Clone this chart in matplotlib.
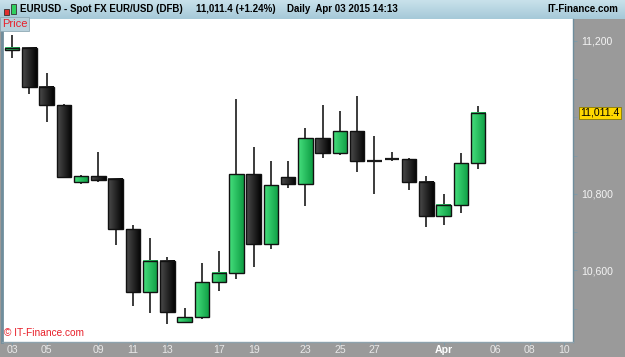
import numpy as np
import matplotlib
matplotlib.use("Agg")
import matplotlib.pyplot as plt
from matplotlib.patches import Rectangle
from matplotlib.colors import LinearSegmentedColormap

plt.rcParams['font.family'] = ['Liberation Sans', 'DejaVu Sans']

# daily candles, Mar 03 .. Apr 03 2015 (Sunday sessions included)
opens = [11175, 11182, 11080, 11032, 10832, 10846, 10838, 10707, 10543, 10625,
         10465, 10478, 10569, 10593, 10851, 10669, 10844, 10827, 10946, 10908,
         10965, 10888, 10890, 10890, 10830, 10741, 10772, 10880]
highs = [11215, 11185, 11115, 11034, 10849, 10910, 10841, 10719, 10684, 10634,
         10501, 10619, 10651, 11048, 10922, 10885, 10885, 10973, 11031, 11017,
         11056, 10952, 10909, 10893, 10847, 10801, 10908, 11029]
lows = [11154, 11062, 10989, 10841, 10825, 10832, 10667, 10506, 10488, 10459,
        10465, 10473, 10547, 10578, 10610, 10655, 10815, 10769, 10893, 10902,
        10858, 10801, 10887, 10811, 10713, 10719, 10751, 10864]
closes = [11182, 11079, 11032, 10845, 10846, 10837, 10707, 10543, 10625, 10491,
          10478, 10569, 10593, 10851, 10669, 10822, 10827, 10946, 10908, 10965,
          10887, 10886, 10891, 10830, 10741, 10772, 10880, 11011.4]

tick_idx = [0, 2, 5, 7, 9, 12, 14, 17, 19, 21, 25, 28, 30, 32]
tick_labels = ['03', '05', '09', '11', '13', '17', '19', '23', '25', '27', 'Apr', '06', '08', '10']
y_labels = [10600, 10800, 11200]
last_price = 11011.4

W, H = 625, 357


def fx(px):
    return px / W


def fy(py):
    return 1 - py / H


fig = plt.figure(figsize=(W / 100, H / 100), dpi=100, facecolor='#9a9a9a')

# title bar with a light blue gradient
bar = fig.add_axes([0, fy(19), 1, 19 / H])
bar.imshow(np.linspace(0, 1, 20).reshape(-1, 1), aspect='auto', extent=[0, 1, 0, 1],
           cmap=LinearSegmentedColormap.from_list('bar', ['#c8e1eb', '#a6c9d8']))
bar.set_xlim(0, 1)
bar.set_ylim(0, 1)
bar.axis('off')

tsize = 7.0
fig.text(fx(20), fy(9.5), 'EURUSD - Spot FX EUR/USD (DFB)', fontsize=tsize, fontweight='bold', va='center')
fig.text(fx(196), fy(9.5), '11,011.4 (+1.24%)', fontsize=tsize, fontweight='bold', va='center')
fig.text(fx(287), fy(9.5), 'Daily  Apr 03 2015 14:13', fontsize=tsize, fontweight='bold', va='center')
fig.text(fx(618), fy(9.5), 'IT-Finance.com', fontsize=tsize, fontweight='bold', va='center', ha='right')

# small candle icon
fig.add_artist(Rectangle((fx(4), fy(15)), fx(5), 6 / H, facecolor='#e03030', edgecolor='#333', lw=0.6))
fig.add_artist(Rectangle((fx(11), fy(14)), fx(5), 10 / H, facecolor='#30d060', edgecolor='#333', lw=0.6))

# main price panel
ax = fig.add_axes([fx(2), fy(342), fx(571), (342 - 19) / H])
ax.set_facecolor('white')

x = np.arange(len(opens))
bw = 0.84
green = LinearSegmentedColormap.from_list('g', ['#45de7c', '#0f9f45'])
black = LinearSegmentedColormap.from_list('k', ['#4a4a4a', '#050505'])
grad = np.linspace(0, 1, 16).reshape(1, -1)

for i in x:
    o, h, l, c = opens[i], highs[i], lows[i], closes[i]
    ax.vlines(i, l, h, color='#1a1a1a', lw=1.2, zorder=2)
    lo, hi = min(o, c), max(o, c)
    if hi - lo < 4:
        ax.hlines((o + c) / 2, i - bw / 2, i + bw / 2, color='#1a1a1a', lw=1.6, zorder=3)
        continue
    cmap = green if c > o else black
    ax.imshow(grad, cmap=cmap, aspect='auto', extent=[i - bw / 2, i + bw / 2, lo, hi], zorder=3)
    ax.add_patch(Rectangle((i - bw / 2, lo), bw, hi - lo, fill=False,
                           edgecolor='#111', lw=1.0, zorder=4))

ax.set_xlim(-0.58, 32.5)
ax.set_ylim(10413, 11257)

ax.yaxis.tick_right()
ax.set_yticks(y_labels)
ax.set_yticklabels([f'{v:,}' for v in y_labels])
ax.set_yticks(np.arange(10500, 11300, 100), minor=True)
ax.tick_params(axis='y', which='both', length=3, color='#7f9aa8', labelcolor='#f4f4f4',
               labelsize=7.6, pad=3)

ax.set_xticks(tick_idx)
ax.set_xticklabels(tick_labels)
ax.tick_params(axis='x', length=2, color='#7f9aa8', labelcolor='#e8e8e8', labelsize=7.6, pad=0.5)
for t in ax.get_xticklabels():
    if t.get_text() == 'Apr':
        t.set_fontweight('bold')
        t.set_color('white')

ax.spines['top'].set_visible(False)
ax.spines['left'].set_color('#6f8d9c')
ax.spines['left'].set_linewidth(2)
ax.spines['right'].set_color('#6f8d9c')
ax.spines['right'].set_linewidth(1)
ax.spines['bottom'].set_color('#8da2ad')
ax.spines['bottom'].set_linewidth(1)

# last price tag
ax.annotate(f'{last_price:,.1f}', xy=(1.0, last_price), xycoords=('axes fraction', 'data'),
            xytext=(5, 0), textcoords='offset points', va='center', ha='left',
            fontsize=7.6, color='black',
            bbox=dict(boxstyle='square,pad=0.12', facecolor='#ffd700', edgecolor='#8a7a00', lw=0.6),
            annotation_clip=False)

# panel caption and watermark
ax.text(0.0, 1.0, 'Price', transform=ax.transAxes, fontsize=8, color='#e8202a',
        va='top', ha='left',
        bbox=dict(boxstyle='square,pad=0.15', facecolor='#b8d0db', edgecolor='#8fa9b5', lw=0.6))
ax.text(0.003, 0.028, '\u00a9 IT-Finance.com', transform=ax.transAxes, fontsize=7.3,
        color='#e8202a', va='center', ha='left')

fig.savefig('out.png', dpi=100, facecolor=fig.get_facecolor())
